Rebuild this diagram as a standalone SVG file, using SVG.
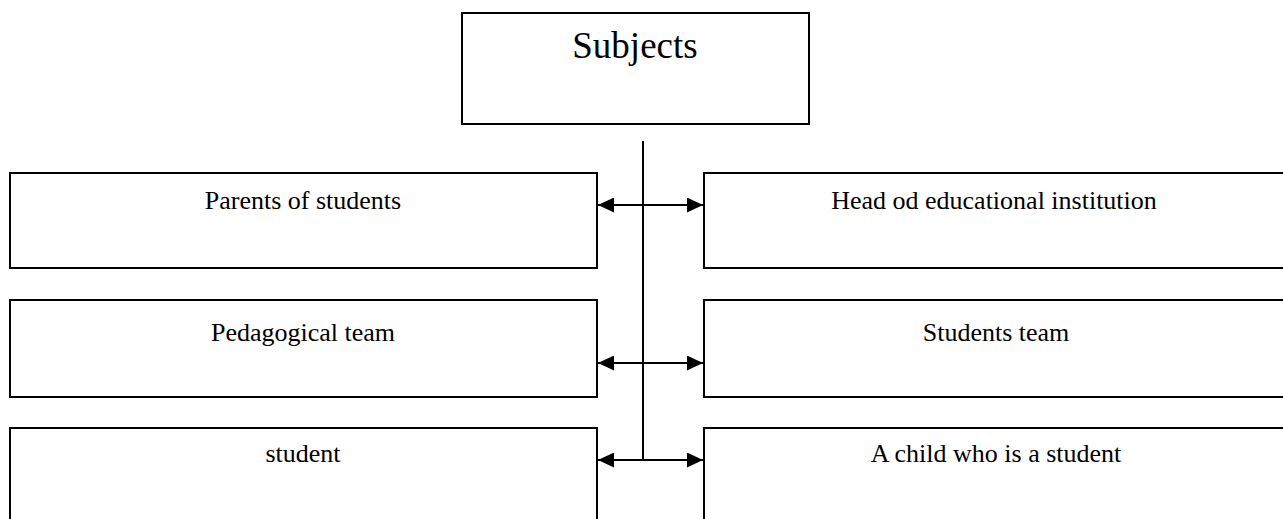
<svg xmlns="http://www.w3.org/2000/svg" width="1283" height="519" viewBox="0 0 1283 519">
<style>
.box{fill:#fff;stroke:#000;stroke-width:2}
.t{font-family:"Liberation Serif","Times New Roman",serif;font-size:26px;fill:#000;text-anchor:middle}
.title{font-family:"Liberation Serif","Times New Roman",serif;font-size:37px;fill:#000;text-anchor:middle}
.c{stroke:#000;stroke-width:2;fill:none}
</style>
<defs>
<marker id="ah" viewBox="0 0 16 15" refX="16" refY="7.5" markerWidth="16" markerHeight="15" markerUnits="userSpaceOnUse" orient="auto-start-reverse">
<path d="M0,0 L16,7.5 L0,15 Z" fill="#000"/>
</marker>
</defs>
<rect width="1283" height="519" fill="#fff"/>
<g id="subjects"><rect class="box" x="462" y="13" width="347" height="111"/><text class="title" x="635" y="58">Subjects</text></g>
<g id="parents"><rect class="box" x="10" y="173" width="587" height="95"/><text class="t" x="303" y="209">Parents of students</text></g>
<g id="head"><rect class="box" x="704" y="173" width="590" height="95"/><text class="t" x="994" y="209">Head od educational institution</text></g>
<g id="pedagogical"><rect class="box" x="10" y="300" width="587" height="97"/><text class="t" x="303" y="341">Pedagogical team</text></g>
<g id="studentsteam"><rect class="box" x="704" y="300" width="590" height="97"/><text class="t" x="996" y="341">Students team</text></g>
<g id="student"><rect class="box" x="10" y="428" width="587" height="110"/><text class="t" x="303" y="462">student</text></g>
<g id="child"><rect class="box" x="704" y="428" width="590" height="110"/><text class="t" x="996" y="462">A child who is a student</text></g>
<g id="connectors">
<line class="c" x1="643" y1="141" x2="643" y2="461"/>
<line class="c" x1="598" y1="205" x2="703" y2="205" marker-start="url(#ah)" marker-end="url(#ah)"/>
<line class="c" x1="598" y1="363" x2="703" y2="363" marker-start="url(#ah)" marker-end="url(#ah)"/>
<line class="c" x1="598" y1="460" x2="703" y2="460" marker-start="url(#ah)" marker-end="url(#ah)"/>
</g>
</svg>
